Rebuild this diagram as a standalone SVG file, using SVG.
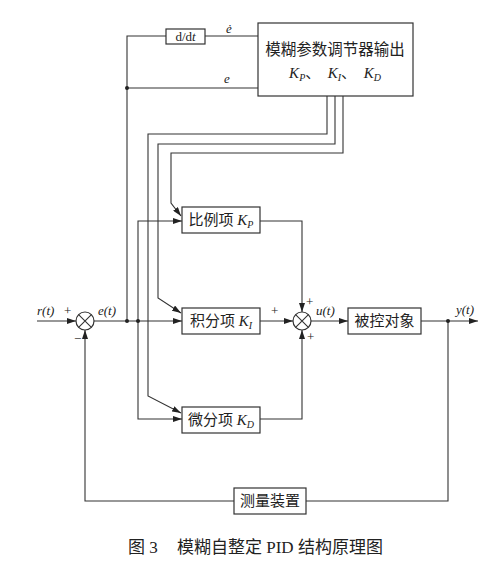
<svg xmlns="http://www.w3.org/2000/svg" width="497" height="574" viewBox="0 0 497 574">
<style>
.ln{fill:none;stroke:#333;stroke-width:1.1}
.bx{fill:#fff;stroke:#333;stroke-width:1.2}
.t{font-family:"Liberation Serif","Noto Sans CJK SC",serif;fill:#222}
.cn{font-size:15px}
.lb{font-size:13px;font-style:italic}
.pm{font-size:13px}
.it{font-style:italic}
.dot{fill:#222}
</style>
<defs>
<marker id="ar" markerUnits="userSpaceOnUse" markerWidth="9" markerHeight="6" refX="9" refY="3" orient="auto">
<path d="M0,0 L9,3 L0,6 z" fill="#222"/>
</marker>
</defs>
<rect width="497" height="574" fill="#fff"/>
<g id="connectors">
<path class="ln" d="M37,321 H76" marker-end="url(#ar)"/>
<path class="ln" d="M94,321 H182" marker-end="url(#ar)"/>
<path class="ln" d="M127,321 V36 H166"/>
<path class="ln" d="M205,36 H258"/>
<path class="ln" d="M127,88 H258"/>
<path class="ln" d="M138,321 V221 H182" marker-end="url(#ar)"/>
<path class="ln" d="M138,321 V419 H182" marker-end="url(#ar)"/>
<path class="ln" d="M327,96 V134 H148 V396 L181,413" marker-end="url(#ar)"/>
<path class="ln" d="M335,96 V144 H158 V298 L181,313" marker-end="url(#ar)"/>
<path class="ln" d="M343,96 V153 H171 V203 L181,216" marker-end="url(#ar)"/>
<path class="ln" d="M260,221 H302 V312" marker-end="url(#ar)"/>
<path class="ln" d="M260,321 H293" marker-end="url(#ar)"/>
<path class="ln" d="M260,419 H302 V330" marker-end="url(#ar)"/>
<path class="ln" d="M311,321 H348" marker-end="url(#ar)"/>
<path class="ln" d="M421,321 H478" marker-end="url(#ar)"/>
<path class="ln" d="M448,321 V501 H306"/>
<path class="ln" d="M234,501 H85 V330" marker-end="url(#ar)"/>
<circle class="dot" cx="127" cy="88" r="2"/>
<circle class="dot" cx="127" cy="321" r="2"/>
<circle class="dot" cx="138" cy="321" r="2"/>
<circle class="dot" cx="448" cy="321" r="2"/>
</g>
<g id="sum1">
<circle cx="85" cy="321" r="9" fill="#fff" stroke="#333" stroke-width="1.2"/>
<path class="ln" d="M78.6,314.6 L91.4,327.4 M91.4,314.6 L78.6,327.4"/>
</g>
<g id="sum2">
<circle cx="302" cy="321" r="9" fill="#fff" stroke="#333" stroke-width="1.2"/>
<path class="ln" d="M295.6,314.6 L308.4,327.4 M308.4,314.6 L295.6,327.4"/>
</g>
<g id="ddt">
<rect class="bx" x="166" y="29" width="39" height="15"/>
<text class="t" x="185.5" y="41" font-size="13" text-anchor="middle">d/d<tspan class="it">t</tspan></text>
</g>
<g id="fuzzy">
<rect class="bx" x="258" y="23" width="155" height="73"/>
<text class="t" x="335" y="55" font-size="15.5" text-anchor="middle">模糊参数调节器输出</text>
<text class="t" x="335" y="78" font-size="15" text-anchor="middle"><tspan class="it">K</tspan><tspan class="it" font-size="10" dy="3">P</tspan><tspan dy="-3">、&#160;&#160;</tspan><tspan class="it">K</tspan><tspan class="it" font-size="10" dy="3">I</tspan><tspan dy="-3">、&#160;&#160;</tspan><tspan class="it">K</tspan><tspan class="it" font-size="10" dy="3">D</tspan></text>
</g>
<g id="prop">
<rect class="bx" x="182" y="207" width="78" height="26"/>
<text class="t cn" x="221" y="225" text-anchor="middle">比例项 <tspan class="it">K</tspan><tspan class="it" font-size="10" dy="3">P</tspan></text>
</g>
<g id="integ">
<rect class="bx" x="182" y="308" width="78" height="26"/>
<text class="t cn" x="221" y="326" text-anchor="middle">积分项 <tspan class="it">K</tspan><tspan class="it" font-size="10" dy="3">I</tspan></text>
</g>
<g id="deriv">
<rect class="bx" x="182" y="407" width="78" height="26"/>
<text class="t cn" x="221" y="425" text-anchor="middle">微分项 <tspan class="it">K</tspan><tspan class="it" font-size="10" dy="3">D</tspan></text>
</g>
<g id="plant">
<rect class="bx" x="348" y="308" width="73" height="26"/>
<text class="t cn" x="384.5" y="326" text-anchor="middle">被控对象</text>
</g>
<g id="sensor">
<rect class="bx" x="234" y="488" width="72" height="26"/>
<text class="t cn" x="270" y="506" text-anchor="middle">测量装置</text>
</g>
<g id="labels">
<text class="t lb" x="226" y="33">ė</text>
<text class="t lb" x="224" y="83">e</text>
<text class="t lb" x="37" y="315">r(t)</text>
<text class="t pm" x="64" y="315">+</text>
<text class="t pm" x="74" y="343">−</text>
<text class="t lb" x="98" y="315">e(t)</text>
<text class="t pm" x="271" y="315">+</text>
<text class="t pm" x="306" y="306">+</text>
<text class="t pm" x="307" y="341">+</text>
<text class="t lb" x="316" y="315">u(t)</text>
<text class="t lb" x="456" y="314">y(t)</text>
</g>
<g id="caption">
<text class="t" x="128" y="553" font-size="17">图 3</text>
<text class="t" x="177" y="553" font-size="17">模糊自整定 PID 结构原理图</text>
</g>
</svg>
